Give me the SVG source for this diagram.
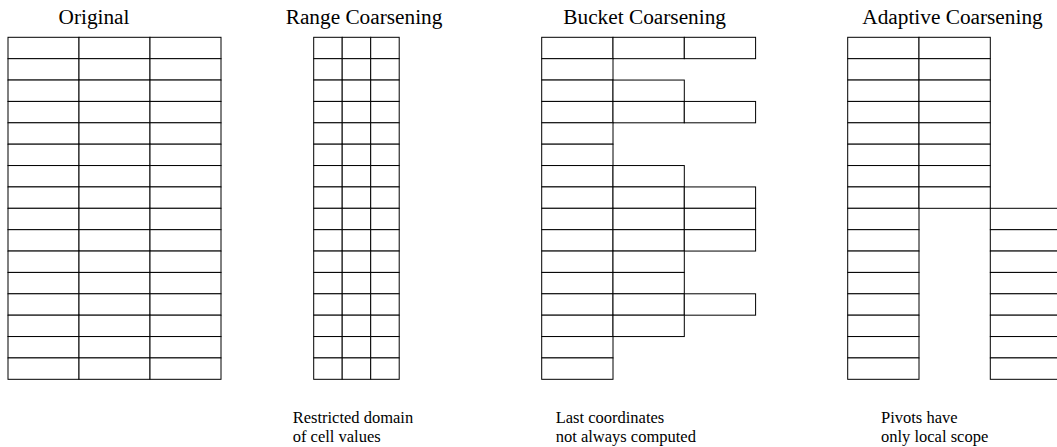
<svg xmlns="http://www.w3.org/2000/svg" xmlns:xlink="http://www.w3.org/1999/xlink" width="1057" height="447" viewBox="0 0 1057 447">
<style>
.c{fill:#fff;stroke:#000;stroke-width:1}
.t{font-family:"Liberation Serif","Times New Roman",serif;font-size:21.3px;fill:#000}
.n{font-family:"Liberation Serif","Times New Roman",serif;font-size:16.5px;fill:#000}
</style>
<defs>
<g id="o1"><rect class="c" x="0" y="0" width="71" height="21.375"/></g>
<g id="r1"><rect class="c" x="0" y="0" width="28.5" height="21.375"/></g>
<g id="b1"><rect class="c" x="0" y="0" width="71.3" height="21.375"/></g>
</defs>
<rect width="1057" height="447" fill="#fff"/>

<g id="original">
<text class="t" x="58.5" y="24">Original</text>
<g id="original-grid">
<use xlink:href="#o1" x="8" y="37.3"/><use xlink:href="#o1" x="79" y="37.3"/><use xlink:href="#o1" x="150" y="37.3"/>
<use xlink:href="#o1" x="8" y="58.68"/><use xlink:href="#o1" x="79" y="58.68"/><use xlink:href="#o1" x="150" y="58.68"/>
<use xlink:href="#o1" x="8" y="80.05"/><use xlink:href="#o1" x="79" y="80.05"/><use xlink:href="#o1" x="150" y="80.05"/>
<use xlink:href="#o1" x="8" y="101.43"/><use xlink:href="#o1" x="79" y="101.43"/><use xlink:href="#o1" x="150" y="101.43"/>
<use xlink:href="#o1" x="8" y="122.8"/><use xlink:href="#o1" x="79" y="122.8"/><use xlink:href="#o1" x="150" y="122.8"/>
<use xlink:href="#o1" x="8" y="144.18"/><use xlink:href="#o1" x="79" y="144.18"/><use xlink:href="#o1" x="150" y="144.18"/>
<use xlink:href="#o1" x="8" y="165.55"/><use xlink:href="#o1" x="79" y="165.55"/><use xlink:href="#o1" x="150" y="165.55"/>
<use xlink:href="#o1" x="8" y="186.93"/><use xlink:href="#o1" x="79" y="186.93"/><use xlink:href="#o1" x="150" y="186.93"/>
<use xlink:href="#o1" x="8" y="208.3"/><use xlink:href="#o1" x="79" y="208.3"/><use xlink:href="#o1" x="150" y="208.3"/>
<use xlink:href="#o1" x="8" y="229.68"/><use xlink:href="#o1" x="79" y="229.68"/><use xlink:href="#o1" x="150" y="229.68"/>
<use xlink:href="#o1" x="8" y="251.05"/><use xlink:href="#o1" x="79" y="251.05"/><use xlink:href="#o1" x="150" y="251.05"/>
<use xlink:href="#o1" x="8" y="272.43"/><use xlink:href="#o1" x="79" y="272.43"/><use xlink:href="#o1" x="150" y="272.43"/>
<use xlink:href="#o1" x="8" y="293.8"/><use xlink:href="#o1" x="79" y="293.8"/><use xlink:href="#o1" x="150" y="293.8"/>
<use xlink:href="#o1" x="8" y="315.18"/><use xlink:href="#o1" x="79" y="315.18"/><use xlink:href="#o1" x="150" y="315.18"/>
<use xlink:href="#o1" x="8" y="336.55"/><use xlink:href="#o1" x="79" y="336.55"/><use xlink:href="#o1" x="150" y="336.55"/>
<use xlink:href="#o1" x="8" y="357.93"/><use xlink:href="#o1" x="79" y="357.93"/><use xlink:href="#o1" x="150" y="357.93"/>
</g>
</g>

<g id="range">
<text class="t" x="285.7" y="24">Range Coarsening</text>
<g id="range-grid">
<use xlink:href="#r1" x="313.7" y="37.3"/><use xlink:href="#r1" x="342.2" y="37.3"/><use xlink:href="#r1" x="370.7" y="37.3"/>
<use xlink:href="#r1" x="313.7" y="58.68"/><use xlink:href="#r1" x="342.2" y="58.68"/><use xlink:href="#r1" x="370.7" y="58.68"/>
<use xlink:href="#r1" x="313.7" y="80.05"/><use xlink:href="#r1" x="342.2" y="80.05"/><use xlink:href="#r1" x="370.7" y="80.05"/>
<use xlink:href="#r1" x="313.7" y="101.43"/><use xlink:href="#r1" x="342.2" y="101.43"/><use xlink:href="#r1" x="370.7" y="101.43"/>
<use xlink:href="#r1" x="313.7" y="122.8"/><use xlink:href="#r1" x="342.2" y="122.8"/><use xlink:href="#r1" x="370.7" y="122.8"/>
<use xlink:href="#r1" x="313.7" y="144.18"/><use xlink:href="#r1" x="342.2" y="144.18"/><use xlink:href="#r1" x="370.7" y="144.18"/>
<use xlink:href="#r1" x="313.7" y="165.55"/><use xlink:href="#r1" x="342.2" y="165.55"/><use xlink:href="#r1" x="370.7" y="165.55"/>
<use xlink:href="#r1" x="313.7" y="186.93"/><use xlink:href="#r1" x="342.2" y="186.93"/><use xlink:href="#r1" x="370.7" y="186.93"/>
<use xlink:href="#r1" x="313.7" y="208.3"/><use xlink:href="#r1" x="342.2" y="208.3"/><use xlink:href="#r1" x="370.7" y="208.3"/>
<use xlink:href="#r1" x="313.7" y="229.68"/><use xlink:href="#r1" x="342.2" y="229.68"/><use xlink:href="#r1" x="370.7" y="229.68"/>
<use xlink:href="#r1" x="313.7" y="251.05"/><use xlink:href="#r1" x="342.2" y="251.05"/><use xlink:href="#r1" x="370.7" y="251.05"/>
<use xlink:href="#r1" x="313.7" y="272.43"/><use xlink:href="#r1" x="342.2" y="272.43"/><use xlink:href="#r1" x="370.7" y="272.43"/>
<use xlink:href="#r1" x="313.7" y="293.8"/><use xlink:href="#r1" x="342.2" y="293.8"/><use xlink:href="#r1" x="370.7" y="293.8"/>
<use xlink:href="#r1" x="313.7" y="315.18"/><use xlink:href="#r1" x="342.2" y="315.18"/><use xlink:href="#r1" x="370.7" y="315.18"/>
<use xlink:href="#r1" x="313.7" y="336.55"/><use xlink:href="#r1" x="342.2" y="336.55"/><use xlink:href="#r1" x="370.7" y="336.55"/>
<use xlink:href="#r1" x="313.7" y="357.93"/><use xlink:href="#r1" x="342.2" y="357.93"/><use xlink:href="#r1" x="370.7" y="357.93"/>
</g>
<text class="n" x="292.7" y="423">Restricted domain</text>
<text class="n" x="292.7" y="442">of cell values</text>
</g>

<g id="bucket">
<text class="t" x="563.3" y="24">Bucket Coarsening</text>
<g id="bucket-grid">
<use xlink:href="#b1" x="541.7" y="37.3"/><use xlink:href="#b1" x="613" y="37.3"/><use xlink:href="#b1" x="684.3" y="37.3"/>
<use xlink:href="#b1" x="541.7" y="58.68"/>
<use xlink:href="#b1" x="541.7" y="80.05"/><use xlink:href="#b1" x="613" y="80.05"/>
<use xlink:href="#b1" x="541.7" y="101.43"/><use xlink:href="#b1" x="613" y="101.43"/><use xlink:href="#b1" x="684.3" y="101.43"/>
<use xlink:href="#b1" x="541.7" y="122.8"/>
<use xlink:href="#b1" x="541.7" y="144.18"/>
<use xlink:href="#b1" x="541.7" y="165.55"/><use xlink:href="#b1" x="613" y="165.55"/>
<use xlink:href="#b1" x="541.7" y="186.93"/><use xlink:href="#b1" x="613" y="186.93"/><use xlink:href="#b1" x="684.3" y="186.93"/>
<use xlink:href="#b1" x="541.7" y="208.3"/><use xlink:href="#b1" x="613" y="208.3"/><use xlink:href="#b1" x="684.3" y="208.3"/>
<use xlink:href="#b1" x="541.7" y="229.68"/><use xlink:href="#b1" x="613" y="229.68"/><use xlink:href="#b1" x="684.3" y="229.68"/>
<use xlink:href="#b1" x="541.7" y="251.05"/><use xlink:href="#b1" x="613" y="251.05"/>
<use xlink:href="#b1" x="541.7" y="272.43"/><use xlink:href="#b1" x="613" y="272.43"/>
<use xlink:href="#b1" x="541.7" y="293.8"/><use xlink:href="#b1" x="613" y="293.8"/><use xlink:href="#b1" x="684.3" y="293.8"/>
<use xlink:href="#b1" x="541.7" y="315.18"/><use xlink:href="#b1" x="613" y="315.18"/>
<use xlink:href="#b1" x="541.7" y="336.55"/>
<use xlink:href="#b1" x="541.7" y="357.93"/>
</g>
<text class="n" x="555.7" y="423">Last coordinates</text>
<text class="n" x="555.7" y="442">not always computed</text>
</g>

<g id="adaptive">
<text class="t" x="862.3" y="24">Adaptive Coarsening</text>
<g id="adaptive-grid">
<use xlink:href="#b1" x="847.7" y="37.3"/><use xlink:href="#b1" x="919" y="37.3"/>
<use xlink:href="#b1" x="847.7" y="58.68"/><use xlink:href="#b1" x="919" y="58.68"/>
<use xlink:href="#b1" x="847.7" y="80.05"/><use xlink:href="#b1" x="919" y="80.05"/>
<use xlink:href="#b1" x="847.7" y="101.43"/><use xlink:href="#b1" x="919" y="101.43"/>
<use xlink:href="#b1" x="847.7" y="122.8"/><use xlink:href="#b1" x="919" y="122.8"/>
<use xlink:href="#b1" x="847.7" y="144.18"/><use xlink:href="#b1" x="919" y="144.18"/>
<use xlink:href="#b1" x="847.7" y="165.55"/><use xlink:href="#b1" x="919" y="165.55"/>
<use xlink:href="#b1" x="847.7" y="186.93"/><use xlink:href="#b1" x="919" y="186.93"/>
<use xlink:href="#b1" x="847.7" y="208.3"/><use xlink:href="#b1" x="990.3" y="208.3"/>
<use xlink:href="#b1" x="847.7" y="229.68"/><use xlink:href="#b1" x="990.3" y="229.68"/>
<use xlink:href="#b1" x="847.7" y="251.05"/><use xlink:href="#b1" x="990.3" y="251.05"/>
<use xlink:href="#b1" x="847.7" y="272.43"/><use xlink:href="#b1" x="990.3" y="272.43"/>
<use xlink:href="#b1" x="847.7" y="293.8"/><use xlink:href="#b1" x="990.3" y="293.8"/>
<use xlink:href="#b1" x="847.7" y="315.18"/><use xlink:href="#b1" x="990.3" y="315.18"/>
<use xlink:href="#b1" x="847.7" y="336.55"/><use xlink:href="#b1" x="990.3" y="336.55"/>
<use xlink:href="#b1" x="847.7" y="357.93"/><use xlink:href="#b1" x="990.3" y="357.93"/>
</g>
<text class="n" x="881" y="423">Pivots have</text>
<text class="n" x="881" y="442">only local scope</text>
</g>
</svg>
